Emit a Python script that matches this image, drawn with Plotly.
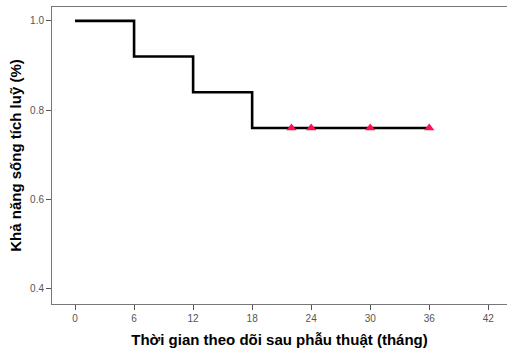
import plotly.graph_objects as go

# Kaplan-Meier step data
step_times = [0, 6, 6, 12, 12, 18, 18, 36]
step_surv = [1.0, 1.0, 0.92, 0.92, 0.84, 0.84, 0.76, 0.76]
censor_times = [22, 24, 30, 36]
censor_surv = [0.76, 0.76, 0.76, 0.76]
x_ticks = [0, 6, 12, 18, 24, 30, 36, 42]
y_ticks = [0.4, 0.6, 0.8, 1.0]

fig = go.Figure()
fig.add_trace(go.Scatter(x=step_times, y=step_surv, mode="lines",
                         line=dict(color="black", width=2.6), showlegend=False))
fig.add_trace(go.Scatter(x=censor_times, y=censor_surv, mode="markers",
                         marker=dict(symbol="triangle-up", size=9, color="#ff1050"),
                         showlegend=False))

axis_font = dict(family="Arial, Liberation Sans", size=10, color="#555555")
fig.update_layout(
    width=507, height=350,
    margin=dict(l=52, r=0, t=7, b=46),
    paper_bgcolor="white", plot_bgcolor="white",
    xaxis=dict(range=[-2.34, 43.9], tickvals=x_ticks, ticktext=[str(v) for v in x_ticks],
               showgrid=False, zeroline=False, showline=True, linecolor="#777777", linewidth=1,
               mirror=True, ticks="outside", ticklen=5, tickcolor="#555555", tickfont=axis_font,
               title=dict(text="<b>Thời gian theo dõi sau phẫu thuật (tháng)</b>",
                          font=dict(family="Arial, Liberation Sans", size=15, color="black"),
                          standoff=11)),
    yaxis=dict(range=[0.366, 1.031], tickvals=y_ticks, ticktext=["0.4", "0.6", "0.8", "1.0"],
               showgrid=False, zeroline=False, showline=True, linecolor="#777777", linewidth=1,
               ticks="outside", ticklen=5, tickcolor="#555555", tickfont=axis_font,
               title=dict(text="<b>Khả năng sống tích luỹ (%)</b>",
                          font=dict(family="Arial, Liberation Sans", size=15, color="black"),
                          standoff=4)),
)
fig.write_html("out.html")
